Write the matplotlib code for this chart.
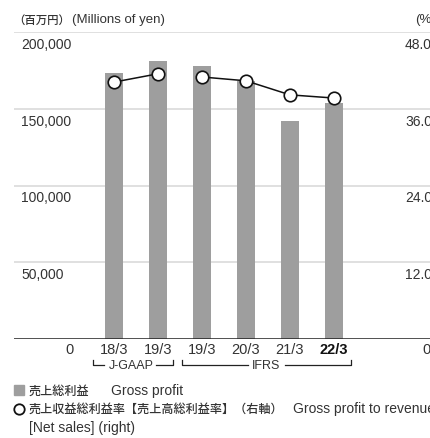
import matplotlib
matplotlib.use("Agg")
import matplotlib.pyplot as plt
from matplotlib.transforms import blended_transform_factory, offset_copy
from matplotlib.lines import Line2D

plt.rcParams['font.family'] = ['Liberation Sans', 'Noto Sans CJK JP']
CJK = ['Noto Sans CJK JP', 'Liberation Sans']

categories = ["18/3", "19/3", "19/3", "20/3", "21/3", "22/3"]
gross_profit = [173500, 181300, 178200, 168000, 142300, 154100]
margin_jgaap = [40.2, 41.5]
margin_ifrs = [41.0, 40.4, 38.2, 37.7]
left_ticks = [0, 50000, 100000, 150000, 200000]
right_ticks = [0, 12.0, 24.0, 36.0, 48.0]

W, H = 431, 439
fig = plt.figure(figsize=(W / 100, H / 100), dpi=100)
ax_left, ax_right_px, ax_top, ax_bot = 14, 431, 33.3, 339.7
ax = fig.add_axes([ax_left / W, 1 - ax_bot / H, (ax_right_px - ax_left) / W, (ax_bot - ax_top) / H])
ax2 = ax.twinx()

TXT = '#333333'
BAR = '#9e9e9e'
GRID = '#dddddd'

def fy(py):
    return 1 - py / H

def fx(px):
    return px / W

x = list(range(len(categories)))
spacing = 44.0
c0 = 114.0
ax.set_xlim((ax_left - c0) / spacing, (ax_right_px - c0) / spacing)
ax.set_ylim(0, 200000)
ax2.set_ylim(0, 48)

for v in left_ticks[1:]:
    ax.axhline(v, color=GRID, lw=1.3, zorder=0)
ax.axhline(0, color='#222222', lw=1.1, zorder=3)

ax.bar(x, gross_profit, width=0.40, color=BAR, zorder=2)

ax2.plot(x[:2], margin_jgaap, color='#111111', lw=1.1, marker='o', ms=9,
         mfc='white', mec='#111111', mew=1.2, zorder=4)
ax2.plot(x[2:], margin_ifrs, color='#111111', lw=1.1, marker='o', ms=9,
         mfc='white', mec='#111111', mew=1.2, zorder=4)

for a in (ax, ax2):
    for s in a.spines.values():
        s.set_visible(False)
    a.set_yticks([])
    a.set_xticks([])

# category labels
bx = blended_transform_factory(ax.transData, fig.transFigure)
for i, c in enumerate(categories):
    bold = (i == len(categories) - 1)
    ax.text(i, fy(349.5), c, transform=bx, ha='center', va='center', fontsize=10.5,
            color='#111111' if bold else TXT, fontweight='bold' if bold else 'normal')

# left y labels
bl = blended_transform_factory(fig.transFigure, ax.transData)
tl = offset_copy(bl, fig=fig, x=0, y=-12, units='dots')
for v in left_ticks[1:]:
    ax.text(fx(21), v, f"{v:,}", transform=tl, ha='left', va='center', fontsize=10, color=TXT)
br = blended_transform_factory(fig.transFigure, ax2.transData)
tr = offset_copy(br, fig=fig, x=0, y=-12, units='dots')
for v in right_ticks[1:]:
    ax2.text(fx(432), v, f"{v:.1f}", transform=tr, ha='right', va='center', fontsize=10, color=TXT)

# zero labels in the category row
fig.text(fx(70), fy(349.5), "0", ha='center', va='center', fontsize=10.5, color=TXT)
fig.text(fx(427), fy(349.5), "0", ha='center', va='center', fontsize=10.5, color=TXT)

# titles
fig.text(fx(13), fy(20), "（百万円）", ha='left', va='center', fontsize=8.2, color=TXT,
         family=CJK, fontweight='medium')
fig.text(fx(72), fy(20), "(Millions of yen)", ha='left', va='center', fontsize=9.5, color=TXT)
fig.text(fx(436), fy(20), "(%)", ha='right', va='center', fontsize=9.5, color=TXT)

# accounting standard brackets
def bracket(x0, x1, l_end, r_start, label, xc, y=366, tick=5):
    fig.add_artist(Line2D([fx(x0), fx(x0), fx(l_end)], [fy(y - tick), fy(y), fy(y)], color='#222222', lw=0.9))
    fig.add_artist(Line2D([fx(r_start), fx(x1), fx(x1)], [fy(y), fy(y), fy(y - tick)], color='#222222', lw=0.9))
    fig.text(fx(xc), fy(y), label, ha='center', va='center', fontsize=9, color=TXT)

bracket(93, 173, 104, 156, "J-GAAP", 131)
bracket(182, 351, 248, 285, "IFRS", 266)

# legend
fig.add_artist(plt.Rectangle((fx(14), fy(396)), 10 / W, 10 / H, color=BAR, transform=fig.transFigure))
fig.text(fx(29), fy(391), "売上総利益", ha='left', va='center', fontsize=8.7, color=TXT,
         family=CJK, fontweight='medium')
fig.text(fx(111), fy(391), "Gross profit", ha='left', va='center', fontsize=10, color=TXT)
fig.add_artist(Line2D([fx(19.5)], [fy(409.5)], marker='o', ms=7.5, mfc='white', mec='#111111', mew=1.3))
fig.text(fx(29), fy(409.5), "売上収益総利益率【売上高総利益率】（右軸）", ha='left', va='center',
         fontsize=8.7, color=TXT, family=CJK, fontweight='medium')
fig.text(fx(293), fy(409.5), "Gross profit to revenue", ha='left', va='center', fontsize=10, color=TXT)
fig.text(fx(29), fy(428), "[Net sales] (right)", ha='left', va='center', fontsize=10, color=TXT)

fig.savefig("out.png", dpi=100)
